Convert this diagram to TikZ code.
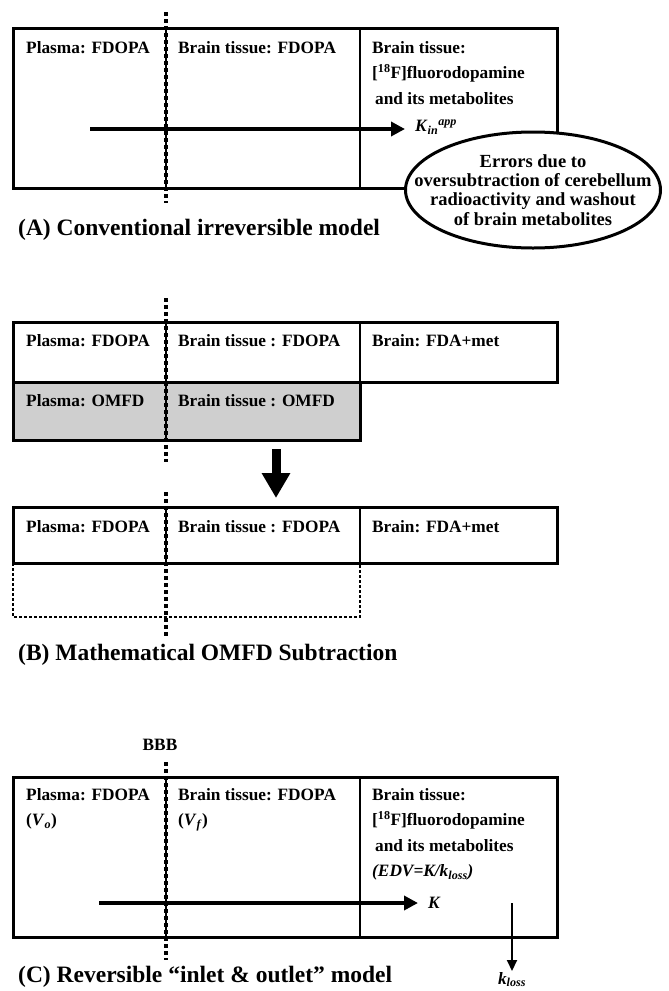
\documentclass[tikz,border=0pt]{standalone}
\usepackage{fontspec}
\setmainfont{Liberation Serif}
\usetikzlibrary{positioning, shapes.geometric, arrows.meta}

\begin{document}
\begin{tikzpicture}[x=1pt, y=-1pt,
    frame/.style={line width=3pt},
    cell/.style={line width=1.2pt},
    bbb/.style={line width=3.5pt, dash pattern=on 3.5pt off 3.5pt},
    ghost/.style={line width=2.6pt, dash pattern=on 2.6pt off 2.4pt},
    lbl/.style={anchor=north west, inner sep=0pt, align=left, font=\fontsize{17.3}{25.5}\selectfont\bfseries},
    ttl/.style={anchor=west, inner sep=0pt, font=\fontsize{23.5}{28}\selectfont\bfseries},
    flow/.style={line width=4pt, -{Triangle[length=14pt, width=14pt]}},
    drop/.style={line width=2pt, -{Triangle[length=11pt, width=10pt]}}
]
\useasboundingbox (0,0) rectangle (669,991);

% (A) conventional model
\draw[cell] (166,28) -- (166,188) (360,28) -- (360,188);
\draw[frame] (13,28) rectangle (557,188);
\draw[bbb] (166,12) -- (166,203);
\node[lbl] (a-plasma) at (26,41) {Plasma: FDOPA};
\node[lbl] (a-tissue) at (178,41) {Brain tissue: FDOPA};
\node[lbl] (a-metab) at (372,41) {Brain tissue:\\{}[\textsuperscript{18}F]fluorodopamine\\\hspace{3pt}and its metabolites};
\coordinate (a-in) at (90,129);
\node[lbl, anchor=west] (a-k) at (415,127) {\textit{K}\textsubscript{\textit{in}}\textsuperscript{\textit{app}}};
\draw[flow] (a-in) -- ([xshift=-10pt]a-k.west |- a-in);
\node[draw, ellipse, line width=3pt, fill=white, minimum width=255pt, minimum height=116pt, inner sep=0pt] (a-err) at (533,190) {};
\node[align=center, inner sep=0pt, font=\fontsize{18.5}{19.2}\selectfont\bfseries] (a-errtext) at (a-err.center)
      {Errors due to\\oversubtraction of cerebellum\\radioactivity and washout\\of brain metabolites};
\node[ttl] (a-title) at (18,230) {(A) Conventional irreversible model};

% (B) OMFD subtraction
\draw[frame, fill=black!19] (13,382) rectangle (360,440);
\draw[cell] (166,322) -- (166,440) (360,322) -- (360,382);
\draw[frame] (13,322) rectangle (557,382);
\draw[bbb] (166,298) -- (166,462);
\node[lbl] (b-plasma) at (26,334) {Plasma: FDOPA};
\node[lbl] (b-tissue) at (178,334) {Brain tissue : FDOPA};
\node[lbl] (b-metab) at (372,334) {Brain: FDA+met};
\node[lbl] (b-omfd) at (26,394) {Plasma: OMFD};
\node[lbl] (b-tomfd) at (178,394) {Brain tissue : OMFD};
\coordinate (b-from) at (276,449);
\coordinate (b-to) at (276,498);
\draw[line width=9pt, -{Triangle[length=25pt, width=27pt]}] (b-from) -- (b-to);
\draw[ghost] (13,563) -- (13,617) -- (360,617) -- (360,563);
\draw[cell] (166,507) -- (166,563) (360,507) -- (360,563);
\draw[frame] (13,507) rectangle (557,563);
\draw[bbb] (166,492) -- (166,636);
\node[lbl] (b-plasma2) at (26,520) {Plasma: FDOPA};
\node[lbl] (b-tissue2) at (178,520) {Brain tissue : FDOPA};
\node[lbl] (b-metab2) at (372,520) {Brain: FDA+met};
\node[ttl] (b-title) at (18,655) {(B) Mathematical OMFD Subtraction};

% (C) inlet & outlet model
\node[lbl, anchor=center] (c-bbb) at (160,745) {BBB};
\draw[cell] (166,777) -- (166,937) (360,777) -- (360,937);
\draw[frame] (13,777) rectangle (557,937);
\draw[bbb] (166,762) -- (166,960);
\node[lbl] (c-plasma) at (26,788) {Plasma: FDOPA\\(\textit{V}\textsubscript{\textit{o}})};
\node[lbl] (c-tissue) at (178,788) {Brain tissue: FDOPA\\(\textit{V}\textsubscript{\textit{f}})};
\node[lbl] (c-metab) at (372,788) {Brain tissue:\\{}[\textsuperscript{18}F]fluorodopamine\\\hspace{3pt}and its metabolites\\\textit{(EDV=K/k\textsubscript{loss})}};
\coordinate (c-in) at (99,903);
\node[lbl, anchor=west] (c-k) at (428,903) {\textit{K}};
\draw[flow] (c-in) -- ([xshift=-10pt]c-k.west);
\coordinate (c-out) at (512,903);
\node[lbl, anchor=north, inner sep=1pt] (c-kloss) at (512,971) {\textit{k}\textsubscript{\textit{loss}}};
\draw[drop] (c-out) -- (c-kloss.north);
\node[ttl] (c-title) at (18,977) {(C) Reversible “inlet \& outlet” model};
\end{tikzpicture}
\end{document}
